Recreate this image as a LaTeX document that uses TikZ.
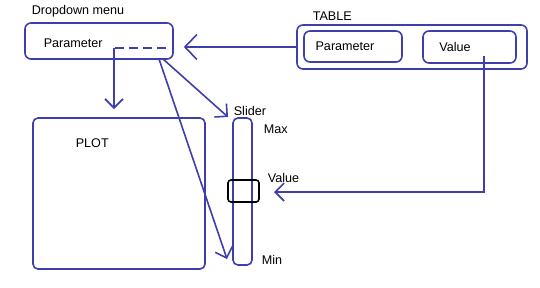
\documentclass[tikz,border=0pt]{standalone}
\usepackage{fontspec}
\setmainfont{Liberation Sans}
\usetikzlibrary{arrows.meta}
\definecolor{ink}{RGB}{62,62,172}
\begin{document}
\begin{tikzpicture}[x=1pt,y=-1pt,
  line width=1.6pt,
  box/.style={draw=ink,rounded corners=6pt,inner sep=0pt},
  lbl/.style={inner sep=0pt,font=\fontsize{12.6}{14}\selectfont,text=black},
  conn/.style={draw=ink,-{Straight Barb[length=9pt,width=18pt,line width=1.6pt]}},
  bigconn/.style={draw=ink,-{Straight Barb[length=12pt,width=25pt,line width=1.6pt]}}]
\useasboundingbox (0,0) rectangle (540,287);
% boxes
\node[box,minimum width=148pt,minimum height=36pt] (dd) at (99,41) {};
\node[box,minimum width=230pt,minimum height=44pt] (tbl) at (412,47) {};
\node[box,minimum width=98pt,minimum height=31pt] (tp) at (353,46.5) {};
\node[box,minimum width=93pt,minimum height=32pt] (tv) at (469.5,47) {};
\node[box,rounded corners=5pt,minimum width=172pt,minimum height=151pt] (plot) at (119,193.5) {};
\node[box,rounded corners=5pt,minimum width=19pt,minimum height=147pt] (slider) at (242.5,191.5) {};
\node[draw=black,rounded corners=3pt,minimum width=31pt,minimum height=22pt,inner sep=0pt] (handle) at (243.5,191) {};
% labels
\node[lbl,anchor=west] (tdd) at (31,11) {Dropdown menu};
\node[lbl,anchor=west] (tddp) at (43,43.5) {Parameter};
\node[lbl,anchor=west] (ttbl) at (312,16.5) {TABLE};
\node[lbl] (ttp) at (345,46.5) {Parameter};
\node[lbl] (ttv) at (455,46.5) {Value};
\node[lbl,anchor=west] (tplot) at (75,143.5) {PLOT};
\node[lbl,anchor=west] (tsl) at (233,110.5) {Slider};
\node[lbl,anchor=west] (tmax) at (263,129.5) {Max};
\node[lbl,anchor=west] (tval) at (267,177.5) {Value};
\node[lbl,anchor=west] (tmin) at (261,259.5) {Min};
% coordinates
\coordinate (dsE) at (166,48);
\coordinate (dsW) at (114,48);
\coordinate (plotTop) at (114,109);
\coordinate (c1) at (159,59);
\coordinate (c2) at (163,59);
\coordinate (slTop) at (228,117);
\coordinate (slBot) at (227,259);
\coordinate (vDown) at (484,56);
\coordinate (vCorner) at (484,192);
\coordinate (vEnd) at (274,192);
% connectors
\draw[bigconn] (tbl.west) -- ([xshift=10pt]dd.east |- tbl.west);
\draw[ink,dash pattern=on 9pt off 5pt] (dsE) -- (dsW);
\draw[conn] (dsW) -- (plotTop);
\draw[conn] (c2) -- (slTop);
\draw[conn] (c1) -- (slBot);
\draw[conn] (vDown) -- (vCorner) -- (vEnd);
\end{tikzpicture}
\end{document}
